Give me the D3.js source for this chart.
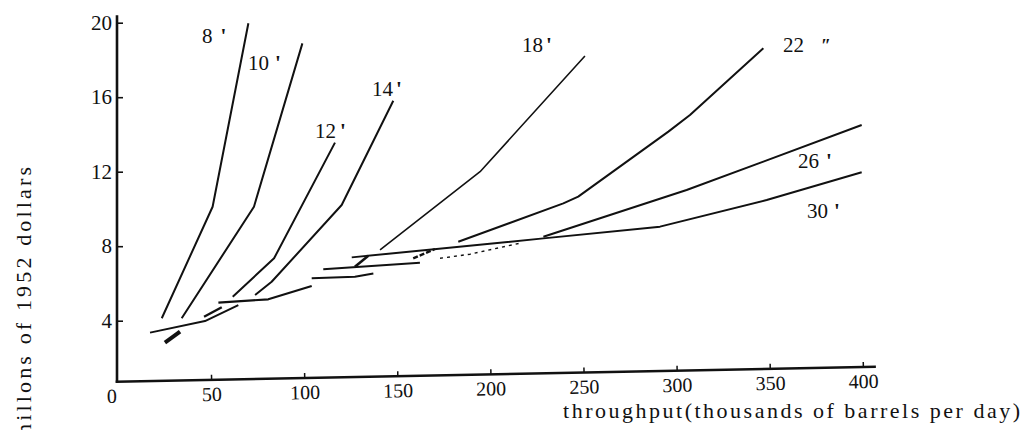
<!DOCTYPE html>
<html>
<head>
<meta charset="utf-8">
<script src="https://cdn.jsdelivr.net/npm/d3@7"></script>
<style>
  html, body { margin: 0; padding: 0; background: #fff; }
  svg { display: block; }
  text { font-family: "Liberation Serif", "DejaVu Serif", serif; fill: #111; }
</style>
</head>
<body>
<svg id="chart" width="1023" height="430"></svg>
<script>
// ---- data (throughput in thousand bbl/day, cost in millions of 1952 $) ----
const xTicks = [0, 50, 100, 150, 200, 250, 300, 350, 400];
const yTicks = [4, 8, 12, 16, 20];

const pipe8  = [[23.5, 4.13], [50.8, 10.12], [70.0, 19.97]];
const pipe10 = [[34.2, 4.13], [73.0, 10.12], [99.0, 18.89]];
const pipe12 = [[61.6, 5.29], [83.8, 7.35], [116.5, 13.56]];
const pipe14 = [[73.6, 5.38], [82.5, 6.09], [120.1, 10.21], [147.8, 15.81]];
const pipe18 = [[140.7, 7.80], [194.4, 12.0], [250.7, 18.21]];
const pipe22 = [[182.7, 8.24], [239.1, 10.30], [247.1, 10.66], [295.5, 14.15], [307.1, 15.04], [346.5, 18.63]];
const pipe26 = [[228.4, 8.51], [305.3, 11.02], [346.5, 12.54], [399.3, 14.51]];
const pipe30 = [[125.5, 7.40], [228.4, 8.42], [291.0, 9.05], [348.3, 10.48], [399.3, 11.97]];

// short low-throughput pieces
const lowA = [[25.2, 2.82], [33.3, 3.41]];
const lowB = [[17.2, 3.36], [46.7, 3.98], [64.6, 4.84]];
const lowC = [[46.2, 4.21], [55.7, 4.72]];
const lowD = [[53.9, 4.97], [80.7, 5.15], [104.0, 5.86]];
const lowE = [[104.0, 6.28], [127.2, 6.36], [137.1, 6.54]];
const lowF = [[110.2, 6.76], [162.1, 7.11]];
const lowZ = [[127.2, 6.90], [134.4, 7.49]];
const lowG = [[158.5, 7.35], [170.2, 7.85]];
const lowH = [[172.9, 7.35], [189.0, 7.57], [215.8, 8.16]];

const labelNames  = ['8', '10', '12', '14', '18', '22', '26', '30'];
const labelPrimes = ["'", "'", "'", "'", "'", '\u2033', "'", "'"];

// ---- layout ----
const W = 1023, H = 430;
const x = d3.scaleLinear().domain([0, 400]).range([118, 863]);
const y = d3.scaleLinear().domain([0, 20]).range([395.2, 22.7]);
const axisY = 381.7;          // scanned x-axis sits a little above zero
const axisTilt = -1.13;       // and is slightly rotated in the scan

// label anchors in data units + gap before the inch mark
const labelAt  = [[45.1, 18.91], [69.8, 17.47], [105.8, 13.81], [136.4, 16.07],
                  [216.9, 18.43], [357.0, 18.43], [365.1, 12.20], [369.9, 9.52]];
const primeGap = [8, 6, 4, 3, 3, 17, 7, 6];

const svg = d3.select('#chart');

// y axis
const yAxis = d3.axisLeft(y).tickValues(yTicks).tickSizeInner(-6).tickSizeOuter(0).tickPadding(5);
const gy = svg.append('g').attr('transform', 'translate(' + (x(0) - 1) + ',0)').call(yAxis);
gy.select('.domain').remove();
gy.selectAll('.tick line').attr('stroke', '#111').attr('stroke-width', 1.6);
gy.selectAll('.tick text').style('font-size', '21px').attr('fill', '#111');
gy.append('line')
    .attr('x1', 0).attr('x2', 0)
    .attr('y1', y(20.4)).attr('y2', axisY + 1)
    .attr('stroke', '#111').attr('stroke-width', 2.6);

// x axis (tilted like the scan)
const xAxis = d3.axisBottom(x).tickValues(xTicks).tickSizeInner(-5).tickSizeOuter(0).tickPadding(7);
const gx = svg.append('g')
    .attr('transform', 'rotate(' + axisTilt + ',' + (x(0) - 1) + ',' + axisY + ') translate(0,' + axisY + ')')
    .call(xAxis);
gx.select('.domain').remove();
gx.selectAll('.tick line').attr('stroke', '#111').attr('stroke-width', 1.5)
    .filter(function (d) { return d === 0; }).remove();
gx.selectAll('.tick text').style('font-size', '20px').attr('fill', '#111')
    .filter(function (d) { return d === 0; }).attr('dx', -7);
gx.append('line')
    .attr('x1', x(0) - 2.3).attr('x2', x(407))
    .attr('y1', 0).attr('y2', 0)
    .attr('stroke', '#111').attr('stroke-width', 2.6);

// axis titles
svg.append('text')
    .attr('x', 563).attr('y', 418)
    .attr('textLength', 457).attr('lengthAdjust', 'spacing')
    .style('font-size', '22px')
    .text('throughput(thousands of barrels per day)');

// the scan crops the first letter of this title at the bottom edge
svg.append('text')
    .attr('transform', 'translate(31,441) rotate(-90)')
    .attr('textLength', 274).attr('lengthAdjust', 'spacing')
    .style('font-size', '22px')
    .text('millons of 1952 dollars');

// curves
const line = d3.line().x(function (d) { return x(d[0]); }).y(function (d) { return y(d[1]); });

const curves = [
    { pts: pipe8,  w: 2 },
    { pts: pipe10, w: 2 },
    { pts: pipe12, w: 2 },
    { pts: pipe14, w: 2 },
    { pts: pipe18, w: 1.6 },
    { pts: pipe22, w: 2 },
    { pts: pipe26, w: 2 },
    { pts: pipe30, w: 2 },
    { pts: lowA, w: 4 },
    { pts: lowB, w: 2 },
    { pts: lowC, w: 2.4 },
    { pts: lowD, w: 2.2 },
    { pts: lowE, w: 2 },
    { pts: lowF, w: 2 },
    { pts: lowZ, w: 2.6 },
    { pts: lowG, w: 2.4, dash: '5,2' },
    { pts: lowH, w: 1.4, dash: '3,4' }
];

svg.append('g').selectAll('path')
    .data(curves)
    .join('path')
    .attr('d', function (c) { return line(c.pts); })
    .attr('fill', 'none')
    .attr('stroke', '#111')
    .attr('stroke-width', function (c) { return c.w; })
    .attr('stroke-linejoin', 'round')
    .attr('stroke-dasharray', function (c) { return c.dash || null; });

// curve labels (pipe diameters, inches)
const lbl = svg.append('g').selectAll('text')
    .data(labelNames)
    .join('text')
    .attr('x', function (d, i) { return x(labelAt[i][0]); })
    .attr('y', function (d, i) { return y(labelAt[i][1]); })
    .style('font-size', '21px');

lbl.append('tspan').text(function (d) { return d; });
lbl.append('tspan')
    .attr('dx', function (d, i) { return primeGap[i]; })
    .style('font-weight', 'bold')
    .style('font-size', function (d, i) { return i === 5 ? '18px' : '21px'; })
    .text(function (d, i) { return labelPrimes[i]; });
</script>
</body>
</html>
